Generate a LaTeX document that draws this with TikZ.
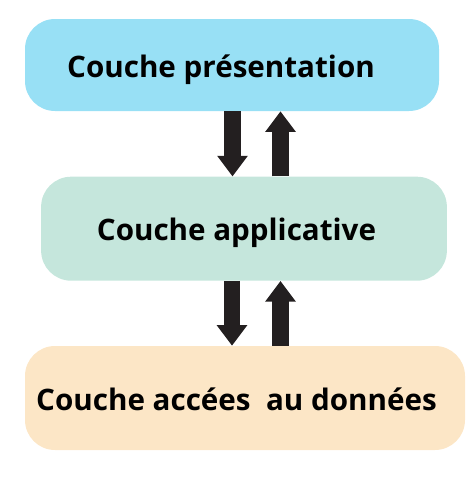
\documentclass[tikz,border=0pt]{standalone}
\usepackage{fontspec}
\setmainfont{Open Sans}
\usepackage{xcolor}
\usetikzlibrary{arrows.meta}

\definecolor{presblue}{HTML}{98E0F5}
\definecolor{applgreen}{HTML}{C5E6DC}
\definecolor{donpeach}{HTML}{FCE6C6}
\definecolor{flowdark}{HTML}{231F20}

\tikzset{
    layer/.style={rounded corners=22.5pt, inner sep=0pt},
    layertext/.style={anchor=base, font=\fontsize{22.2}{27}\selectfont\bfseries},
    flow/.style={draw=flowdark, line width=12.2pt, -{Triangle[length=15.5pt, width=22pt]}}
}

\begin{document}
\begin{tikzpicture}[x=0.75pt, y=-0.75pt]
            \useasboundingbox (0, 0) rectangle (473, 489);

            \node[layer, fill=presblue, minimum width=310.5pt, minimum height=69pt] (pres) at (232, 65) {};
            \node[layer, fill=applgreen, minimum width=304.3pt, minimum height=78pt] (appl) at (244, 228.7) {};
            \node[layer, fill=donpeach, minimum width=330pt, minimum height=78pt] (donn) at (245, 398) {};

            \node[layertext] (prestext) at (221, 77) {Couche présentation};
            \node[layertext] (appltext) at (236.5, 240) {Couche applicative};
            \node[layertext] (donntext) at (236.5, 410) {Couche accées~~au données};

            \draw[flow] (pres.south -| 232.5, 0) -- (appl.north -| 232.5, 0);
            \draw[flow] (appl.north -| 280.5, 0) -- (pres.south -| 280.5, 0);
            \draw[flow] (appl.south -| 232, 0) -- (donn.north -| 232, 0);
            \draw[flow] (donn.north -| 280.5, 0) -- (appl.south -| 280.5, 0);
        \end{tikzpicture}
\end{document}
